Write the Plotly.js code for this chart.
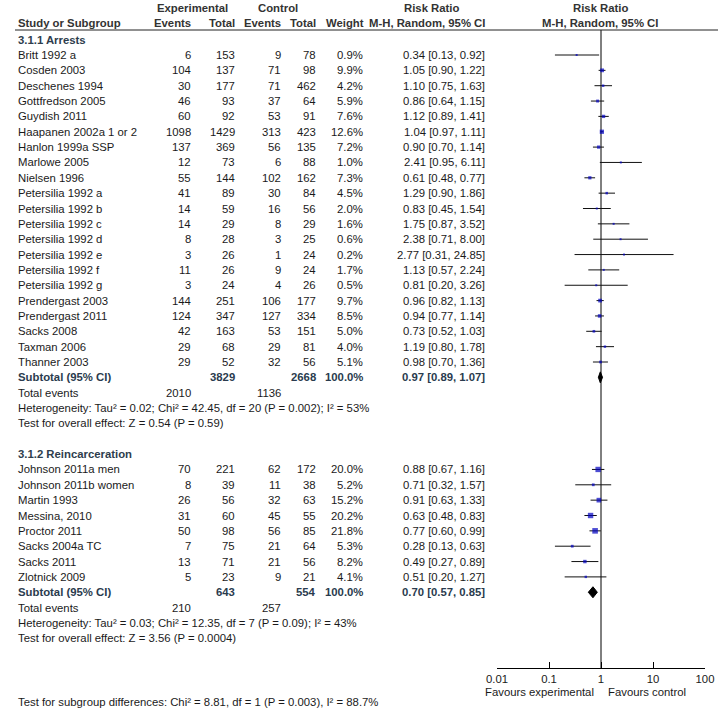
<!DOCTYPE html>
<html><head><meta charset="utf-8">
<script src="https://cdn.plot.ly/plotly-3.0.1.min.js"></script>
<style>html,body{margin:0;padding:0;background:#fff}</style>
</head><body><div id="chart" style="width:720px;height:710px"></div>
<script>
// ---- Data: 3.1.1 Arrests ----
const arrStudies = ["Britt 1992 a","Cosden 2003","Deschenes 1994","Gottfredson 2005","Guydish 2011","Haapanen 2002a 1 or 2","Hanlon 1999a SSP","Marlowe 2005","Nielsen 1996","Petersilia 1992 a","Petersilia 1992 b","Petersilia 1992 c","Petersilia 1992 d","Petersilia 1992 e","Petersilia 1992 f","Petersilia 1992 g","Prendergast 2003","Prendergast 2011","Sacks 2008","Taxman 2006","Thanner 2003"];
const arrExpEvents = [6,104,30,46,60,1098,137,12,55,41,14,14,8,3,11,3,144,124,42,29,29];
const arrExpTotal  = [153,137,177,93,92,1429,369,73,144,89,59,29,28,26,26,24,251,347,163,68,52];
const arrCtlEvents = [9,71,71,37,53,313,56,6,102,30,16,8,3,1,9,4,106,127,53,29,32];
const arrCtlTotal  = [78,98,462,64,91,423,135,88,162,84,56,29,25,24,24,26,177,334,151,81,56];
const arrWeight    = [0.9,9.9,4.2,5.9,7.6,12.6,7.2,1.0,7.3,4.5,2.0,1.6,0.6,0.2,1.7,0.5,9.7,8.5,5.0,4.0,5.1];
const arrRR        = [0.34,1.05,1.10,0.86,1.12,1.04,0.90,2.41,0.61,1.29,0.83,1.75,2.38,2.77,1.13,0.81,0.96,0.94,0.73,1.19,0.98];
const arrLo        = [0.13,0.90,0.75,0.64,0.89,0.97,0.70,0.95,0.48,0.90,0.45,0.87,0.71,0.31,0.57,0.20,0.82,0.77,0.52,0.80,0.70];
const arrHi        = [0.92,1.22,1.63,1.15,1.41,1.11,1.14,6.11,0.77,1.86,1.54,3.52,8.00,24.85,2.24,3.26,1.13,1.14,1.03,1.78,1.36];
const arrSubtotal  = {exp:3829, ctl:2668, rr:0.97, lo:0.89, hi:1.07, expEv:2010, ctlEv:1136};
const arrHet  = "Heterogeneity: Tau² = 0.02; Chi² = 42.45, df = 20 (P = 0.002); I² = 53%";
const arrTest = "Test for overall effect: Z = 0.54 (P = 0.59)";

// ---- Data: 3.1.2 Reincarceration ----
const reStudies = ["Johnson 2011a men","Johnson 2011b women","Martin 1993","Messina, 2010","Proctor 2011","Sacks 2004a TC","Sacks 2011","Zlotnick 2009"];
const reExpEvents = [70,8,26,31,50,7,13,5];
const reExpTotal  = [221,39,56,60,98,75,71,23];
const reCtlEvents = [62,11,32,45,56,21,21,9];
const reCtlTotal  = [172,38,63,55,85,64,56,21];
const reWeight    = [20.0,5.2,15.2,20.2,21.8,5.3,8.2,4.1];
const reRR        = [0.88,0.71,0.91,0.63,0.77,0.28,0.49,0.51];
const reLo        = [0.67,0.32,0.63,0.48,0.60,0.13,0.27,0.20];
const reHi        = [1.16,1.57,1.33,0.83,0.99,0.63,0.89,1.27];
const reSubtotal  = {exp:643, ctl:554, rr:0.70, lo:0.57, hi:0.85, expEv:210, ctlEv:257};
const reHet  = "Heterogeneity: Tau² = 0.03; Chi² = 12.35, df = 7 (P = 0.09); I² = 43%";
const reTest = "Test for overall effect: Z = 3.56 (P = 0.0004)";

const subgroupDiff = "Test for subgroup differences: Chi² = 8.81, df = 1 (P = 0.003), I² = 88.7%";
const tickVals = [0.01, 0.1, 1, 10, 100];
const tickText = ["0.01", "0.1", "1", "10", "100"];

// ---- Layout helpers ----
const W = 720, H = 710;
const FS = 11.33;
const FONT = "Liberation Sans, Arial, sans-serif";
const rowY = i => 55 + 15.35 * i;
const px = x => x / W;
const C_TXT = "#1a1a1a", C_HEAD = "#333333", C_SEC = "#2e3d4d", C_SUB = "#2a3b4e";
const annotations = [];
function ann(text, x, y, anchor, color, bold) {
  annotations.push({
    text: bold ? "<b>" + text + "</b>" : text,
    x: px(x), y: y, xref: "paper", yref: "y",
    xanchor: anchor, yanchor: "middle", showarrow: false,
    font: {family: FONT, size: FS, color: color || C_TXT}
  });
}
const fmtCI = (r, l, h) => r.toFixed(2) + " [" + l.toFixed(2) + ", " + h.toFixed(2) + "]";

// column anchors
const X_LABEL = 16, X_EE = 193, X_ET = 237, X_CE = 283, X_CT = 318, X_W = 365, X_RR = 487;

// Headers
ann("Experimental", 192, 8, "center", C_HEAD, true);
ann("Control", 278, 8, "center", C_HEAD, true);
ann("Risk Ratio", 431, 8, "center", C_HEAD, true);
ann("Risk Ratio", 600, 8, "center", C_HEAD, true);
ann("Study or Subgroup", X_LABEL, 23, "left", C_HEAD, true);
ann("Events", X_EE, 23, "right", C_HEAD, true);
ann("Total", X_ET, 23, "right", C_HEAD, true);
ann("Events", X_CE, 23, "right", C_HEAD, true);
ann("Total", X_CT, 23, "right", C_HEAD, true);
ann("Weight", X_W + 1, 23, "right", C_HEAD, true);
ann("M-H, Random, 95% CI", X_RR, 23, "right", C_HEAD, true);
ann("M-H, Random, 95% CI", 600, 23, "center", C_HEAD, true);

const lineX = [], lineY = [], sqX = [], sqY = [], sqS = [];
const diamonds = [];

function group(title, startRow, studies, ee, et, ce, ct, w, rr, lo, hi, sub, het, test) {
  ann(title, X_LABEL, rowY(startRow - 1), "left", C_SEC, true);
  studies.forEach((s, k) => {
    const y = rowY(startRow + k);
    ann(s, X_LABEL, y, "left");
    ann(String(ee[k]), X_EE, y, "right");
    ann(String(et[k]), X_ET, y, "right");
    ann(String(ce[k]), X_CE, y, "right");
    ann(String(ct[k]), X_CT, y, "right");
    ann(w[k].toFixed(1) + "%", X_W, y, "right");
    ann(fmtCI(rr[k], lo[k], hi[k]), X_RR, y, "right");
    lineX.push(lo[k], hi[k], null); lineY.push(y, y, null);
    sqX.push(rr[k]); sqY.push(y); sqS.push(Math.max(2, 1.2 * Math.sqrt(w[k])));
  });
  const n = studies.length;
  const ys = rowY(startRow + n);
  ann("Subtotal (95% CI)", X_LABEL, ys, "left", C_SUB, true);
  ann(String(sub.exp), X_ET, ys, "right", C_SUB, true);
  ann(String(sub.ctl), X_CT, ys, "right", C_SUB, true);
  ann("100.0%", X_W, ys, "right", C_SUB, true);
  ann(fmtCI(sub.rr, sub.lo, sub.hi), X_RR, ys, "right", C_SUB, true);
  diamonds.push({x: [sub.lo, sub.rr, sub.hi, sub.rr, sub.lo], y: [ys, ys - 5.5, ys, ys + 5.5, ys]});
  const yt = rowY(startRow + n + 1);
  ann("Total events", X_LABEL, yt, "left");
  ann(String(sub.expEv), X_EE, yt, "right");
  ann(String(sub.ctlEv), X_CE, yt, "right");
  ann(het, X_LABEL, rowY(startRow + n + 2), "left");
  ann(test, X_LABEL, rowY(startRow + n + 3), "left");
}

group("3.1.1 Arrests", 0, arrStudies, arrExpEvents, arrExpTotal, arrCtlEvents, arrCtlTotal, arrWeight, arrRR, arrLo, arrHi, arrSubtotal, arrHet, arrTest);
group("3.1.2 Reincarceration", arrStudies.length + 6, reStudies, reExpEvents, reExpTotal, reCtlEvents, reCtlTotal, reWeight, reRR, reLo, reHi, reSubtotal, reHet, reTest);
ann(subgroupDiff, X_LABEL, 702, "left");

const AXIS_Y = 668;
ann("Favours experimental", 596, 692, "right");
ann("Favours control", 606, 692, "left");

const traces = [
  {x: [1, 1], y: [30, AXIS_Y], mode: "lines", line: {color: "#000", width: 1}, hoverinfo: "skip"},
  {x: lineX, y: lineY, mode: "lines", line: {color: "#111", width: 1}, connectgaps: false, hoverinfo: "skip"},
  {x: sqX, y: sqY, mode: "markers", marker: {symbol: "square", size: sqS, color: "#0000c0", line: {width: 0}}, hoverinfo: "skip"}
];
diamonds.forEach(d => traces.push({x: d.x, y: d.y, mode: "lines", fill: "toself", fillcolor: "#000", line: {color: "#000", width: 1}, hoverinfo: "skip"}));

const layout = {
  width: W, height: H, margin: {l: 0, r: 0, t: 0, b: 0},
  paper_bgcolor: "#fff", plot_bgcolor: "rgba(0,0,0,0)",
  showlegend: false, hovermode: false,
  font: {family: FONT, size: FS, color: C_TXT},
  xaxis: {
    type: "log", range: [-2, 2], domain: [497 / W, 705 / W],
    anchor: "free", position: 1 - AXIS_Y / H, side: "bottom",
    showline: true, linecolor: "#000", linewidth: 1,
    ticks: "inside", ticklen: 6, tickcolor: "#000", tickwidth: 1,
    tickvals: tickVals, ticktext: tickText,
    tickfont: {family: FONT, size: FS, color: C_TXT},
    showgrid: false, zeroline: false, fixedrange: true
  },
  yaxis: {range: [H, 0], domain: [0, 1], visible: false, showgrid: false, zeroline: false, fixedrange: true},
  shapes: [
    {type: "line", xref: "paper", yref: "y", x0: px(15), x1: px(718), y0: 30, y1: 30, line: {color: "#222", width: 1}}
  ],
  annotations: annotations
};

Plotly.newPlot("chart", traces, layout, {displayModeBar: false, staticPlot: true});
</script></body></html>
